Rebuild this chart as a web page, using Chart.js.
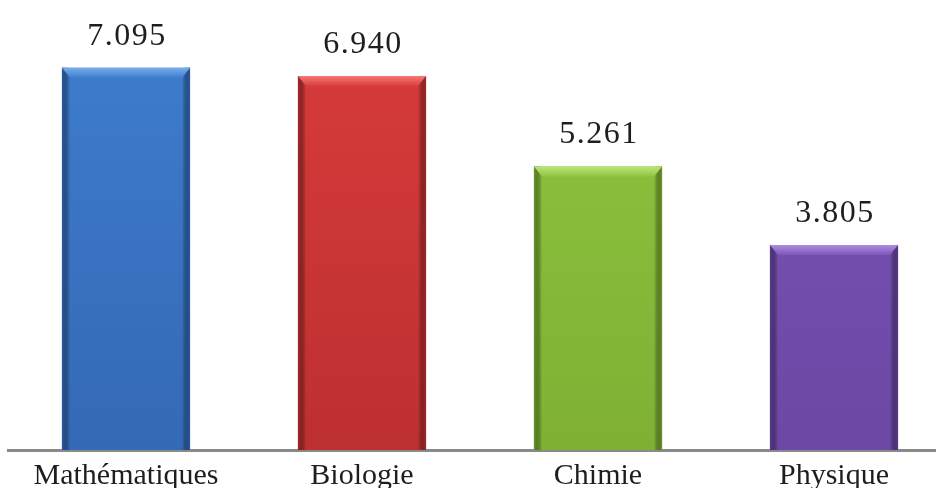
<!DOCTYPE html>
<html>
<head>
<meta charset="utf-8">
<script src="https://cdn.jsdelivr.net/npm/chart.js@4"></script>
<style>
  html, body { margin: 0; padding: 0; background: #fff; overflow: hidden; }
  #wrap { width: 952px; height: 488px; position: relative; }
</style>
</head>
<body>
<div id="wrap"><canvas id="barChart"></canvas></div>
<script>
// data
const categories = ['Mathématiques', 'Biologie', 'Chimie', 'Physique'];
const values = [7.095, 6.940, 5.261, 3.805];
const mainColors = ['#3f7ecf', '#da3c3c', '#8fc63f', '#7e56ba'];
const bottomColors = ['#3469b5', '#bd3030', '#7fb034', '#6c47a3'];
const lightColors = ['#78aeea', '#f47a7a', '#bde47a', '#ad8ee0'];
const darkColors = ['#2b5ca2', '#a42929', '#6a962a', '#5a3b90'];

// bevel + value labels drawn on top of each bar element
const bevelPlugin = {
  id: 'bevel',
  afterDatasetsDraw(chart) {
    const ctx = chart.ctx;
    const meta = chart.getDatasetMeta(0);
    meta.data.forEach((bar, i) => {
      const { x, y, base, width } = bar.getProps(['x', 'y', 'base', 'width'], true);
      const l = x - width / 2, r = x + width / 2, h = base - y;
      ctx.save();
      // side shading
      let g = ctx.createLinearGradient(l, 0, l + 8, 0);
      g.addColorStop(0, darkColors[i]);
      g.addColorStop(1, 'rgba(0,0,0,0)');
      ctx.fillStyle = g;
      ctx.fillRect(l, y, 8, h);
      g = ctx.createLinearGradient(r, 0, r - 8, 0);
      g.addColorStop(0, darkColors[i]);
      g.addColorStop(1, 'rgba(0,0,0,0)');
      ctx.fillStyle = g;
      ctx.fillRect(r - 8, y, 8, h);
      // top bevel
      g = ctx.createLinearGradient(0, y, 0, y + 10);
      g.addColorStop(0, lightColors[i]);
      g.addColorStop(1, mainColors[i]);
      ctx.fillStyle = g;
      ctx.beginPath();
      ctx.moveTo(l, y);
      ctx.lineTo(r, y);
      ctx.lineTo(r - 8, y + 10);
      ctx.lineTo(l + 8, y + 10);
      ctx.closePath();
      ctx.fill();
      // value label
      ctx.fillStyle = '#1e1e1e';
      ctx.font = '32px "Liberation Serif", "Times New Roman", serif';
      ctx.letterSpacing = '1.5px';
      ctx.textAlign = 'center';
      ctx.textBaseline = 'alphabetic';
      ctx.fillText(values[i].toFixed(3), x + 1, y - 23);
      ctx.restore();
    });
  }
};

const ctx = document.getElementById('barChart').getContext('2d');
new Chart(ctx, {
  type: 'bar',
  data: {
    labels: categories,
    datasets: [{
      data: values,
      backgroundColor: c => {
        const area = c.chart.chartArea;
        const i = c.dataIndex;
        if (!area) return mainColors[i];
        const g = c.chart.ctx.createLinearGradient(0, area.top, 0, area.bottom);
        g.addColorStop(0, mainColors[i]);
        g.addColorStop(1, bottomColors[i]);
        return g;
      },
      borderWidth: 0,
      categoryPercentage: 1,
      barPercentage: 0.543
    }]
  },
  options: {
    responsive: true,
    maintainAspectRatio: false,
    animation: false,
    layout: { padding: { left: 8, right: 0, top: 0, bottom: -14 } },
    plugins: { legend: { display: false }, tooltip: { enabled: false } },
    scales: {
      x: {
        grid: { display: false, drawTicks: false, tickLength: 0 },
        border: { display: true, color: '#8a8a8a', width: 3 },
        ticks: {
          color: '#1e1e1e',
          padding: 20,
          font: { family: '"Liberation Serif", "Times New Roman", serif', size: 30, lineHeight: 0.4 }
        }
      },
      y: {
        display: false,
        min: 0,
        max: 8.35
      }
    }
  },
  plugins: [bevelPlugin]
});
</script>
</body>
</html>
